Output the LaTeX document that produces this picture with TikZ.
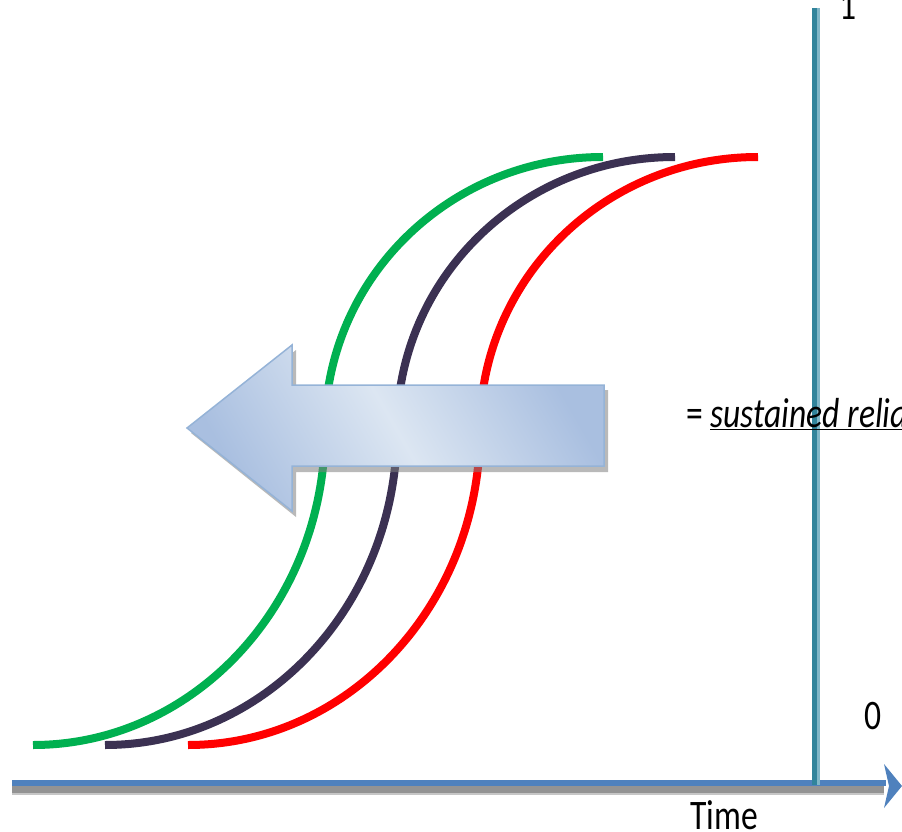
\documentclass[tikz,border=0pt]{standalone}
\usepackage{fontspec}
\setmainfont{Carlito}
\definecolor{cgreen}{HTML}{00B050}
\definecolor{cdark}{HTML}{3B3152}
\definecolor{cred}{HTML}{FF0000}
\definecolor{vaxis}{HTML}{31849B}
\definecolor{vaxisl}{HTML}{80B6C7}
\definecolor{haxis}{HTML}{4F81BD}
\definecolor{arrlight}{HTML}{DCE6F2}
\definecolor{arrdark}{HTML}{A9BFE0}
\definecolor{arredge}{HTML}{95B3D7}
\tikzset{
  curve/.style={line width=8pt, line cap=butt},
  lbl/.style={inner sep=0pt, font=\fontsize{42}{48}\selectfont, xscale=0.8},
}
\begin{document}
\begin{tikzpicture}[x=1pt,y=-1pt]
\useasboundingbox (0,0) rectangle (902,832);
\clip (0,0) rectangle (902,832);
% S-curves
\foreach \dx/\col in {0/cgreen, 72/cdark, 155/cred}{
  \begin{scope}[xshift=\dx]
  \draw[curve, \col] (33,745) .. controls (194,745) and (325,604) .. (325,430)
        .. controls (325,279) and (449,157) .. (603,157);
  \end{scope}
}
% block arrow shadow
\fill[gray, opacity=0.55] (191,433) -- (296,350) -- (296,390) -- (608,390) -- (608,472) -- (296,472) -- (296,517) -- cycle;
% block arrow
\draw[arredge, line width=1.5pt, top color=arrdark, bottom color=arrdark, middle color=arrlight, shading angle=-60]
  (187,428) -- (292,345) -- (292,385) -- (604,385) -- (604,466) -- (292,466) -- (292,511) -- cycle;
% horizontal axis
\draw[gray!45, line width=3pt] (12,793) -- (884,793);
\draw[gray!85, line width=7pt] (12,789.5) -- (884,789.5);
\draw[haxis, line width=6pt] (12,783) -- (886,783);
\coordinate (ht) at (902,786);
\fill[haxis] (884,764) -- (ht) -- (884,808) -- (889,786) -- cycle;
% vertical axis
\draw[vaxis, line width=5pt] (814.5,8) -- (814.5,785);
\draw[vaxisl, line width=2.5pt] (818.3,8) -- (818.3,785);
% labels
\node[lbl, anchor=base] (one) at (848,20) {1};
\node[lbl, anchor=base] (zero) at (873,729) {0};
\node[lbl, anchor=base west] (time) at (690,829) {Time};
\node[lbl, anchor=base west] (sus) at (686,427) {= \underline{\textit{sustained relia}}};
\end{tikzpicture}
\end{document}
